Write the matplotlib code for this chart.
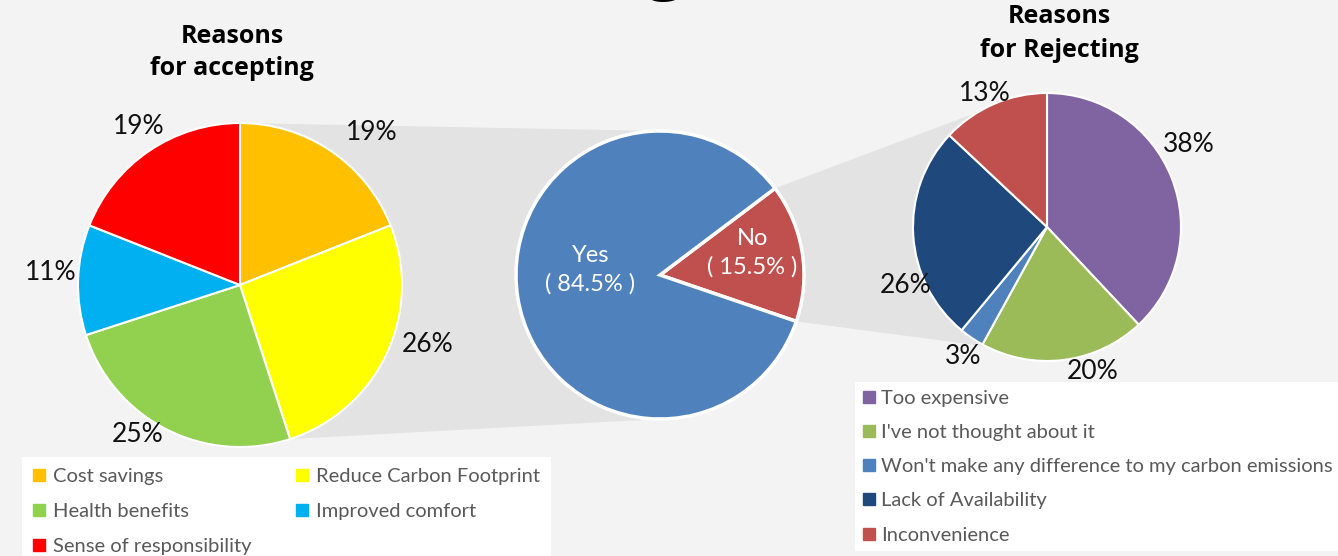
import matplotlib.pyplot as plt
import numpy as np
from matplotlib.lines import Line2D
from matplotlib.patches import Polygon

W, H = 1338, 556

accept_labels = ['Cost savings', 'Reduce Carbon Footprint', 'Health benefits',
                 'Improved comfort', 'Sense of responsibility']
accept_values = [19, 26, 25, 11, 19]
accept_colors = ['#FFC000', '#FFFF00', '#92D050', '#00B0F0', '#FF0000']

answer_labels = ['No', 'Yes']
answer_values = [15.5, 84.5]
answer_colors = ['#C0504D', '#4F81BD']

reject_labels = ['Too expensive', "I've not thought about it",
                 "Won't make any difference to my carbon emissions",
                 'Lack of Availability', 'Inconvenience']
reject_values = [38, 20, 3, 26, 13]
reject_colors = ['#8064A2', '#9BBB59', '#4F81BD', '#1F497D', '#C0504D']

# layout (pixels, y up)
left_c, left_r = (240, 271), 162
mid_c, mid_r = (660, 281), 144
right_c, right_r = (1047, 329), 134
left_nudge = [(24, 5), (14, 16), (-15, 9), (2, 7), (6, 11)]
right_nudge = [(-11, 27), (25, 4), (4, -5), (22, -49), (3, -4)]
mid_dist = [0.65, 0.49]
mid_nudge = [(0, 7), (0, 16)]

plt.rcParams['font.family'] = ['Lato', 'DejaVu Sans']
band_color = '#e3e3e3'

fig = plt.figure(figsize=(W / 100, H / 100), dpi=100)
fig.patch.set_facecolor('#f3f3f3')
ax = fig.add_axes([0, 0, 1, 1])
ax.set_facecolor('#f3f3f3')


def pt(c, r, deg):
    a = np.deg2rad(deg)
    return (c[0] + r * np.cos(a), c[1] + r * np.sin(a))


wp = dict(edgecolor='white', linewidth=1.5)
w_left, _ = ax.pie(accept_values, colors=accept_colors, startangle=90, counterclock=False,
                   center=left_c, radius=left_r, wedgeprops=wp)
w_mid, _ = ax.pie(answer_values, colors=answer_colors, startangle=37, counterclock=False,
                  center=mid_c, radius=mid_r, wedgeprops=dict(edgecolor='white', linewidth=2.5))
w_right, _ = ax.pie(reject_values, colors=reject_colors, startangle=90, counterclock=False,
                    center=right_c, radius=right_r, wedgeprops=wp)
for w in w_left + w_mid + w_right:
    w.set_zorder(3)

# grey connector bands
yg_angle = w_left[1].theta1  # yellow / green boundary
band1 = [pt(left_c, left_r, 90), pt(mid_c, mid_r, 90),
         pt(mid_c, mid_r, -90), pt(left_c, left_r, yg_angle)]
no = w_mid[0]
band2 = [pt(mid_c, mid_r, no.theta2), pt(right_c, right_r, 121),
         pt(right_c, right_r, -117), pt(mid_c, mid_r, no.theta1)]
for b in (band1, band2):
    ax.add_patch(Polygon(b, closed=True, facecolor=band_color, edgecolor='none', zorder=1))


def outer_labels(wedges, values, r, nudges):
    for w, v, (dx, dy) in zip(wedges, values, nudges):
        txt = f'{v}%'
        a = np.deg2rad((w.theta1 + w.theta2) / 2)
        c, s = np.cos(a), np.sin(a)
        tw, th = 16.5 * len(txt), 22
        x = w.center[0] + (r + 5 + tw / 2) * c + dx
        y = w.center[1] + (r + 5 + th / 2) * s + dy
        ax.text(x, y, txt, ha='center', va='center', fontsize=19, color='#111111', zorder=5)


outer_labels(w_left, accept_values, left_r, left_nudge)
outer_labels(w_right, reject_values, right_r, right_nudge)

for w, lab, v, d, (dx, dy) in zip(w_mid, answer_labels, answer_values, mid_dist, mid_nudge):
    a = np.deg2rad((w.theta1 + w.theta2) / 2)
    x = mid_c[0] + d * mid_r * np.cos(a) + dx
    y = mid_c[1] + d * mid_r * np.sin(a) + dy
    ax.text(x, y, f'{lab}\n( {v}% )', ha='center', va='center', fontsize=17,
            color='white', linespacing=1.4, zorder=5)

# titles
tfont = dict(fontsize=18, fontweight='bold', family=['Open Sans', 'DejaVu Sans'],
             ha='center', va='baseline', color='black', zorder=5)
ax.text(232, 513, 'Reasons', **tfont)
ax.text(232, 481, 'for accepting', **tfont)
ax.text(1059, 533, 'Reasons', **tfont)
ax.text(1059, 499, 'for Rejecting', **tfont)
# cut-off main heading at the very top
ax.text(665, 571, 'g', fontsize=50, fontweight='bold', family=['Open Sans', 'DejaVu Sans'],
        ha='center', va='baseline', color='black')

# legends
def handles(colors):
    return [Line2D([], [], marker='s', linestyle='none', markersize=8,
                   markerfacecolor=c, markeredgecolor=c) for c in colors]


order = [0, 2, 4, 1, 3]
h1 = handles(accept_colors)
leg1 = ax.legend([h1[i] for i in order], [accept_labels[i] for i in order],
                 ncol=2, loc='upper left', bbox_to_anchor=(22, H - 457),
                 bbox_transform=ax.transData, frameon=True, fancybox=False,
                 facecolor='white', edgecolor='none', framealpha=1,
                 fontsize=14.5, labelcolor='#595959', handlelength=0.6,
                 handletextpad=0.4, columnspacing=2.2, labelspacing=0.89,
                 borderpad=0.55, borderaxespad=0)
ax.add_artist(leg1)
ax.legend(handles(reject_colors), reject_labels, loc='upper left',
          bbox_to_anchor=(855, H - 382), bbox_transform=ax.transData,
          frameon=True, fancybox=False, facecolor='white', edgecolor='none',
          framealpha=1, fontsize=14.5, labelcolor='#595959', handlelength=0.6,
          handletextpad=0.3, labelspacing=0.85, borderpad=0.38, borderaxespad=0)

ax.set_xlim(0, W)
ax.set_ylim(0, H)
ax.set_aspect('equal')
ax.axis('off')

fig.savefig('out.png', dpi=100, facecolor=fig.get_facecolor())
